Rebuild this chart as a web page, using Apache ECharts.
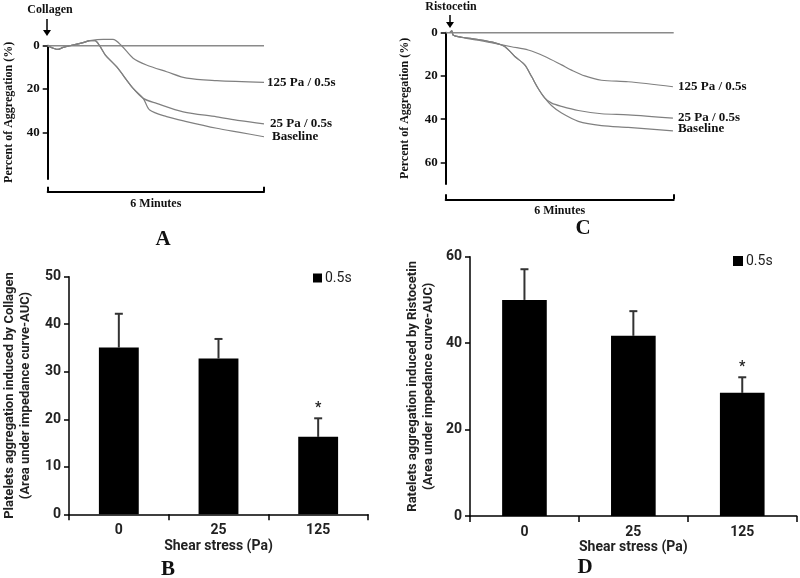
<!DOCTYPE html>
<html><head><meta charset="utf-8">
<script src="https://cdn.jsdelivr.net/npm/echarts@6/dist/echarts.min.js"></script>
<style>html,body{margin:0;padding:0;background:#fff}#c{width:800px;height:578px}</style>
</head><body><div id="c"></div>
<script>
// ---- Panel A (collagen traces): [minutes, % aggregation] ----
const timeTicks = [0, 6];
const aTicks = [0, 20, 40];
const cTicks = [0, 20, 40, 60];
const zeroLine = [[0, 0], [6, 0]];
const aBaseline = [[0,0],[0.29,1.7],[0.43,0.75],[0.7,-0.3],[0.98,-1.4],[1.17,-2.3],[1.31,-2.3],[1.44,0],[1.6,4.3],[1.91,9.7],[2.37,19.7],[2.65,24.3],[2.83,29.7],[3.3,32.7],[3.85,35],[4.69,38.1],[5.33,40],[6,42]];
const a25Pa = [[0,0],[0.29,1.7],[0.43,0.75],[0.7,-0.3],[0.98,-1.4],[1.17,-2.3],[1.31,-2.3],[1.44,0],[1.6,4.3],[1.91,9.7],[2.37,19.7],[2.65,24.3],[3.02,26.6],[3.76,30.5],[4.69,32.8],[5.33,34.6],[6,36.1]];
const a125Pa = [[0,0],[0.29,1.7],[0.43,0.75],[0.7,-0.3],[0.98,-1.4],[1.17,-2.3],[1.54,-2.9],[1.81,-2.9],[2.05,0],[2.37,5.8],[2.74,8.9],[3.3,12],[3.86,15],[4.69,16.1],[6,16.9]];
// ---- Panel C (ristocetin traces) ----
const cBaseline = [[0.11,0],[0.16,-0.8],[0.2,1.2],[0.42,2.1],[0.86,3.2],[1.3,4.7],[1.56,6.5],[1.82,11],[2.08,14.9],[2.26,20.3],[2.43,25.7],[2.61,30.3],[2.79,33.8],[3.05,37.2],[3.49,41],[4.1,43],[4.8,43.8],[5.98,45.4]];
const c25Pa = [[0.11,0],[0.16,-0.8],[0.2,1.2],[0.42,2.1],[0.86,3.2],[1.3,4.7],[1.56,6.5],[1.82,11],[2.08,14.9],[2.26,20.3],[2.43,25.7],[2.61,30.3],[2.79,32.6],[3.05,34.1],[3.49,36],[4.1,37.5],[4.8,38],[5.98,39.5]];
const c125Pa = [[0.11,0],[0.16,-0.8],[0.2,1.2],[0.42,2.2],[0.86,3.5],[1.3,5],[1.73,6.5],[2.17,8],[2.61,11],[3.05,14.9],[3.31,17.3],[3.66,20],[4.1,22],[4.8,22.7],[5.98,25]];
// ---- Panels B and D (bars) ----
const shearCategories = ['0', '25', '125'];
const collagenMeans = [35.1, 32.8, 16.3];
const collagenUpper = [42.2, 36.9, 20.2];
const collagenStars = ['', '', '*'];
const ristoMeans = [50.0, 41.7, 28.5];
const ristoUpper = [57.1, 47.4, 32.1];
const ristoStars = ['', '', '*'];

const SERIF = 'Liberation Serif';
const SANS = 'Roboto';
const chart = echarts.init(document.getElementById('c'), null, {renderer: 'canvas'});

function traceSeries(name, data, idx, dist, off) {
  return {
    type: 'line', name: name, data: data, xAxisIndex: idx, yAxisIndex: idx,
    symbol: 'none', smooth: 0.3, clip: false, silent: true,
    lineStyle: {color: '#808080', width: 1.2},
    endLabel: {show: true, formatter: '{a}', distance: dist, offset: off || [0, 0],
      color: '#111', fontFamily: SERIF, fontWeight: 'bold', fontSize: 13}
  };
}
function zeroSeries(idx) {
  return {type: 'line', data: zeroLine, xAxisIndex: idx, yAxisIndex: idx, symbol: 'none',
    silent: true, lineStyle: {color: '#8a8a8a', width: 1.5}};
}
function errSeries(idx, means, upper, stars) {
  return {
    type: 'custom', xAxisIndex: idx, yAxisIndex: idx, silent: true,
    data: means.map((m, i) => [i, m, upper[i]]),
    encode: {x: 0, y: [1, 2]},
    renderItem: function (params, api) {
      const p0 = api.coord([api.value(0), api.value(1)]);
      const p1 = api.coord([api.value(0), api.value(2)]);
      const st = {stroke: '#333', lineWidth: 2};
      const ch = [
        {type: 'line', shape: {x1: p0[0], y1: p0[1], x2: p1[0], y2: p1[1]}, style: st},
        {type: 'line', shape: {x1: p1[0] - 4, y1: p1[1], x2: p1[0] + 4, y2: p1[1]}, style: st}
      ];
      const s = stars[params.dataIndex];
      if (s) ch.push({type: 'text', style: {text: s, x: p1[0], y: p1[1] - 3, align: 'center',
        verticalAlign: 'bottom', fill: '#222', font: 'bold 14px ' + SANS}});
      return {type: 'group', children: ch};
    }
  };
}
function traceY(max, ticks, gap) {
  return {
    type: 'value', inverse: true, min: 0, max: max,
    name: 'Percent of Aggregation (%)', nameLocation: 'middle', nameGap: gap,
    nameTextStyle: {fontFamily: SERIF, fontWeight: 'bold', fontSize: 12, color: '#111'},
    axisLine: {show: true, lineStyle: {color: '#000', width: 2}},
    axisTick: {show: true, length: 5, customValues: ticks, lineStyle: {color: '#000', width: 1.5}},
    axisLabel: {customValues: ticks, margin: 8, fontFamily: SERIF, fontWeight: 'bold', fontSize: 13, color: '#111'},
    splitLine: {show: false}
  };
}
function traceX(offset) {
  return {
    type: 'value', min: 0, max: 6, offset: offset,
    name: '6 Minutes', nameLocation: 'middle', nameGap: 6,
    nameTextStyle: {fontFamily: SERIF, fontWeight: 'bold', fontSize: 12, color: '#111'},
    axisLine: {show: true, onZero: false, lineStyle: {color: '#000', width: 2}},
    axisTick: {show: true, inside: true, length: 5, customValues: timeTicks, lineStyle: {color: '#000', width: 2}},
    axisLabel: {show: false}, splitLine: {show: false}
  };
}
function barY(max, interval, title, gap) {
  return {
    type: 'value', min: 0, max: max, interval: interval,
    name: title, nameLocation: 'middle', nameGap: gap,
    nameTextStyle: {fontFamily: SANS, fontWeight: 'bold', fontSize: 13, color: '#222', lineHeight: 16},
    axisLine: {show: true, lineStyle: {color: '#000', width: 1.5}},
    axisTick: {show: true, length: 5, lineStyle: {color: '#000', width: 1.5}},
    axisLabel: {margin: 8, fontFamily: SANS, fontWeight: 'bold', fontSize: 14, color: '#222'},
    splitLine: {show: false}
  };
}
function barX(gap) {
  return {
    type: 'category', data: shearCategories, boundaryGap: true,
    name: 'Shear stress (Pa)', nameLocation: 'middle', nameGap: gap,
    nameTextStyle: {fontFamily: SANS, fontWeight: 'bold', fontSize: 14, color: '#222'},
    axisLine: {show: true, lineStyle: {color: '#000', width: 1.5}},
    axisTick: {show: true, length: 6, lineStyle: {color: '#000', width: 1.5}},
    axisLabel: {margin: 9, fontFamily: SANS, fontWeight: 'bold', fontSize: 14, color: '#222'}
  };
}

const txt = (t, x, y, size, align) => ({type: 'text', x: x, y: y, silent: true,
  style: {text: t, align: align || 'center', verticalAlign: 'middle', fill: '#111',
    font: 'bold ' + size + 'px ' + SERIF}});

chart.setOption({
  animation: false,
  backgroundColor: '#fff',
  grid: [
    {left: 47.7, top: 45.7, width: 216.3, height: 133.3},
    {left: 445.7, top: 32.7, width: 228, height: 151.3},
    {left: 69, top: 276.7, width: 299, height: 237.6},
    {left: 470, top: 256.7, width: 326.7, height: 259.3}
  ],
  xAxis: [
    Object.assign(traceX(12.7), {gridIndex: 0}),
    Object.assign(traceX(15.3), {gridIndex: 1}),
    Object.assign(barX(25), {gridIndex: 2}),
    Object.assign(barX(24), {gridIndex: 3})
  ],
  yAxis: [
    Object.assign(traceY(61.5, aTicks, 33), {gridIndex: 0}),
    Object.assign(traceY(70, cTicks, 35), {gridIndex: 1}),
    Object.assign(barY(50, 10, 'Platelets aggregation induced by Collagen\n(Area under impedance curve-AUC)', 35), {gridIndex: 2}),
    Object.assign(barY(60, 20, 'Ratelets aggregation induced by Ristocetin\n(Area under impedance curve-AUC)', 33), {gridIndex: 3})
  ],
  legend: [
    {data: ['0.5s'], left: 313, top: 271, padding: 0, icon: 'rect', itemWidth: 9, itemHeight: 9, itemGap: 4,
      textStyle: {fontFamily: SANS, fontSize: 14, color: '#222', padding: [0, 0, 0, -2]}},
    {data: ['0.5s'], left: 733, top: 254, padding: 0, icon: 'rect', itemWidth: 10, itemHeight: 10, itemGap: 4,
      textStyle: {fontFamily: SANS, fontSize: 14, color: '#222', padding: [0, 0, 0, -2]}}
  ],
  series: [
    zeroSeries(0),
    traceSeries('125 Pa / 0.5s', a125Pa, 0, 3),
    traceSeries('25 Pa / 0.5s', a25Pa, 0, 6),
    traceSeries('Baseline', aBaseline, 0, 8),
    zeroSeries(1),
    traceSeries('125 Pa / 0.5s', c125Pa, 1, 5),
    traceSeries('25 Pa / 0.5s', c25Pa, 1, 5),
    traceSeries('Baseline', cBaseline, 1, 5, [0, -2]),
    {type: 'bar', name: '0.5s', xAxisIndex: 2, yAxisIndex: 2, data: collagenMeans, barWidth: '40%',
      itemStyle: {color: '#000'}, silent: true},
    errSeries(2, collagenMeans, collagenUpper, collagenStars),
    {type: 'bar', name: '0.5s', xAxisIndex: 3, yAxisIndex: 3, data: ristoMeans, barWidth: '41%',
      itemStyle: {color: '#000'}, silent: true},
    errSeries(3, ristoMeans, ristoUpper, ristoStars)
  ],
  graphic: [
    txt('Collagen', 50, 10, 12),
    {type: 'line', silent: true, shape: {x1: 47, y1: 19, x2: 47, y2: 31}, style: {stroke: '#000', lineWidth: 1.5}},
    {type: 'polygon', silent: true, shape: {points: [[43, 30], [51, 30], [47, 36]]}, style: {fill: '#000'}},
    txt('Ristocetin', 451, 7, 12),
    {type: 'line', silent: true, shape: {x1: 450, y1: 15, x2: 450, y2: 23}, style: {stroke: '#000', lineWidth: 1.5}},
    {type: 'polygon', silent: true, shape: {points: [[446, 22], [454, 22], [450, 28]]}, style: {fill: '#000'}},
    txt('A', 163, 240, 21),
    txt('B', 168, 570, 21),
    txt('C', 583, 229, 21),
    txt('D', 585, 568, 21)
  ]
});
</script></body></html>
